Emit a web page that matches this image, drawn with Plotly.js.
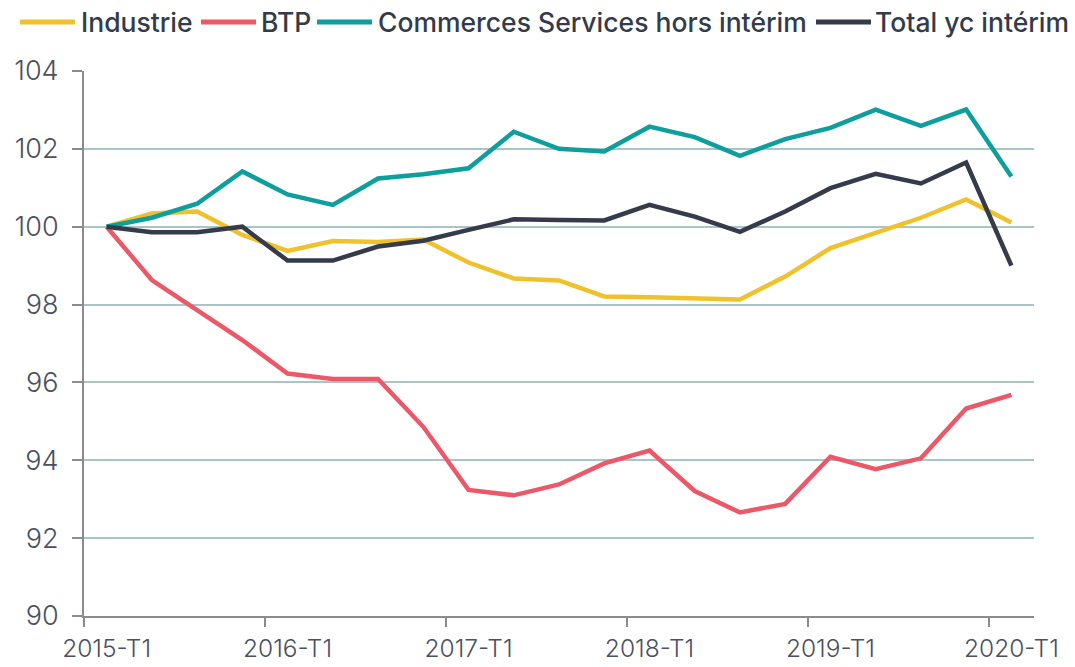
<!DOCTYPE html>
<html>
<head>
<meta charset="utf-8">
<script src="https://cdn.plot.ly/plotly-3.0.1.min.js"></script>
<style>
  html, body { margin: 0; padding: 0; background: #ffffff; }
  #chart { width: 1075px; height: 667px; }
</style>
</head>
<body>
<div id="chart"></div>
<script>
// Quarters 2015-T1 .. 2020-T1
const quarters = [
  "2015-T1","2015-T2","2015-T3","2015-T4",
  "2016-T1","2016-T2","2016-T3","2016-T4",
  "2017-T1","2017-T2","2017-T3","2017-T4",
  "2018-T1","2018-T2","2018-T3","2018-T4",
  "2019-T1","2019-T2","2019-T3","2019-T4",
  "2020-T1"
];
const tickLabels = ["2015-T1","2016-T1","2017-T1","2018-T1","2019-T1","2020-T1"];

const industrie = [100.0, 100.34, 100.39, 99.79, 99.38, 99.63, 99.61, 99.67, 99.08, 98.67, 98.62, 98.21, 98.19, 98.16, 98.13, 98.72, 99.45, 99.84, 100.23, 100.7, 100.11];
const btp       = [100.0, 98.63, 97.86, 97.09, 96.23, 96.09, 96.09, 94.86, 93.24, 93.1, 93.38, 93.92, 94.25, 93.21, 92.66, 92.88, 94.09, 93.77, 94.05, 95.33, 95.68];
const commerces = [100.0, 100.23, 100.59, 101.42, 100.83, 100.56, 101.24, 101.35, 101.5, 102.44, 102.0, 101.93, 102.57, 102.3, 101.82, 102.25, 102.54, 103.01, 102.59, 103.01, 101.29];
const total     = [100.0, 99.86, 99.86, 100.0, 99.13, 99.13, 99.49, 99.64, 99.92, 100.19, 100.17, 100.16, 100.56, 100.26, 99.87, 100.39, 100.99, 101.36, 101.11, 101.65, 99.0];

const seriesNames = ["Industrie", "BTP", "Commerces Services hors intérim", "Total yc intérim"];
const seriesData = [industrie, btp, commerces, total];
const colors = ["#EFC12C", "#EB5968", "#0E9E9D", "#353B4B"];

const xIdx = quarters.map((q, i) => i);

const traces = seriesData.map((vals, k) => ({
  type: "scatter",
  mode: "lines",
  name: seriesNames[k],
  x: xIdx,
  y: vals,
  text: quarters,
  line: { color: colors[k], width: 4.5, shape: "linear" },
  showlegend: false,
  hovertemplate: "%{text}: %{y}<extra>" + seriesNames[k] + "</extra>"
}));

const labelVals = tickLabels.map(l => quarters.indexOf(l));
const boundaryVals = labelVals.map(v => v - 0.5);

// custom legend (long line samples as in the original)
const legendX = [20, 201, 317, 816];   // px, left of line sample
const legendTextX = [79, 259, 376, 873];
const shapes = [];
const annotations = [];
seriesNames.forEach((n, k) => {
  shapes.push({
    type: "line", xref: "paper", yref: "paper",
    x0: (legendX[k] - 84) / 950, x1: (legendX[k] + 55 - 84) / 950,
    y0: (616 - 22) / 545, y1: (616 - 22) / 545,
    line: { color: colors[k], width: 5 }
  });
  annotations.push({
    xref: "paper", yref: "paper",
    x: (legendTextX[k] - 84) / 950, y: (616 - 22) / 545,
    xanchor: "left", yanchor: "middle",
    text: n, showarrow: false,
    font: { family: "Inter, 'Noto Sans', sans-serif", size: 26.5, color: "#333a4a", weight: 500 }
  });
});

const layout = {
  width: 1075, height: 667,
  margin: { l: 84, r: 41, t: 71, b: 51 },
  paper_bgcolor: "#ffffff",
  plot_bgcolor: "#ffffff",
  showlegend: false,
  xaxis: {
    type: "linear",
    range: [-0.5, quarters.length - 0.5],
    tickvals: labelVals,
    ticktext: tickLabels,
    ticks: "",
    ticklabelstandoff: 10,
    showgrid: false,
    zeroline: false,
    showline: true,
    linecolor: "#8c8c8c",
    linewidth: 2,
    tickfont: { family: "Inter, 'Noto Sans', sans-serif", size: 24.5, color: "#4b5060", weight: 300 },
    minor: { tickvals: boundaryVals, ticks: "outside", ticklen: 9, tickwidth: 2, tickcolor: "#8c8c8c", showgrid: false },
    fixedrange: true
  },
  yaxis: {
    range: [90, 104],
    tickvals: [90, 92, 94, 96, 98, 100, 102, 104],
    ticks: "outside",
    ticklen: 10,
    tickwidth: 2,
    tickcolor: "#8c8c8c",
    ticklabelstandoff: 8,
    showline: true,
    linecolor: "#8c8c8c",
    linewidth: 2,
    showgrid: true,
    gridcolor: "#A8C5CA",
    gridwidth: 2,
    zeroline: false,
    tickfont: { family: "Inter, 'Noto Sans', sans-serif", size: 27, color: "#4b5060", weight: 300 },
    fixedrange: true
  },
  shapes: shapes,
  annotations: annotations
};

Plotly.newPlot("chart", traces, layout, { displayModeBar: false, staticPlot: true });
</script>
</body>
</html>
